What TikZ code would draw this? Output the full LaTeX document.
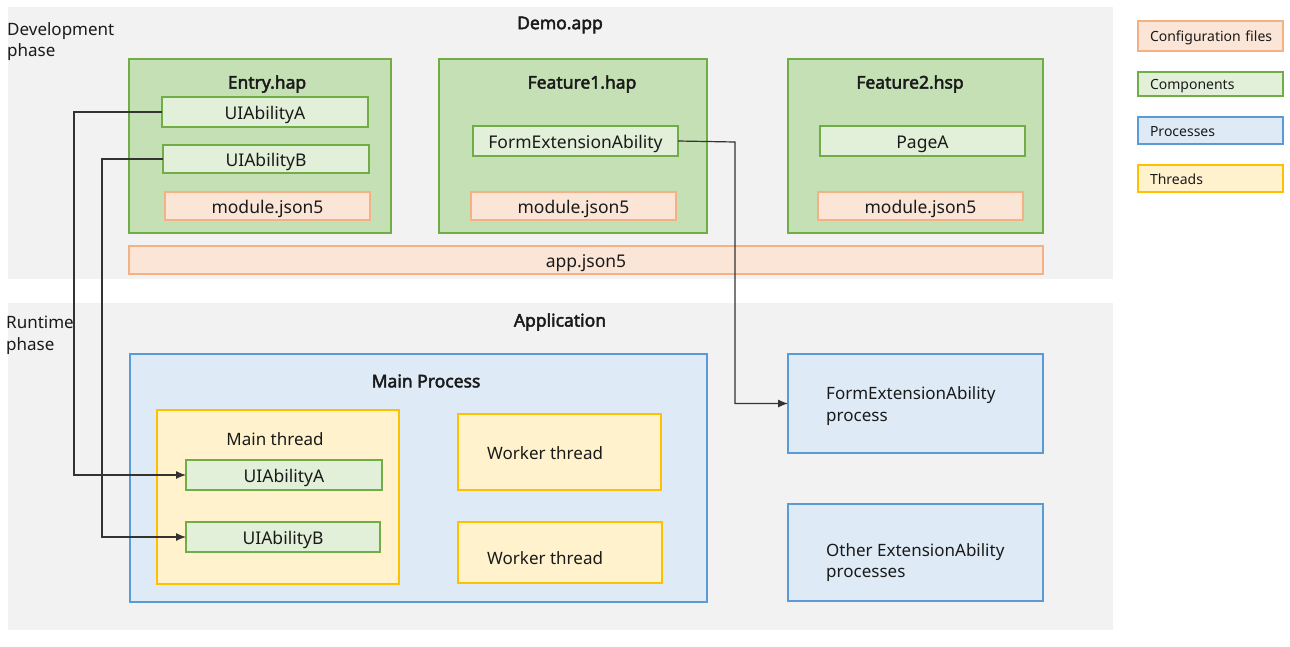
\documentclass[tikz,border=0pt]{standalone}
\usepackage{fontspec}
\setmainfont{Noto Sans}[AutoFakeBold=2.5]
\usetikzlibrary{arrows.meta}
\definecolor{panel}{HTML}{F2F2F2}
\definecolor{grpfill}{HTML}{C5E0B4}
\definecolor{grpline}{HTML}{70AD47}
\definecolor{compfill}{HTML}{E2F0D9}
\definecolor{cfgfill}{HTML}{FBE5D6}
\definecolor{cfgline}{HTML}{F4B183}
\definecolor{procfill}{HTML}{DEEBF7}
\definecolor{procline}{HTML}{5B9BD5}
\definecolor{thrfill}{HTML}{FFF2CC}
\definecolor{thrline}{HTML}{FFC000}
\definecolor{ink}{HTML}{1A1A1A}
\definecolor{wire}{HTML}{333333}
\begin{document}
\begin{tikzpicture}[x=1pt,y=-1pt,
  box/.style={draw, line width=2pt, anchor=north west, inner sep=0pt, outer sep=0pt,
    text=ink, text height=14pt, text depth=0pt, font=\fontsize{17.5}{20}\selectfont},
  grp/.style={box, fill=grpfill, draw=grpline},
  comp/.style={box, fill=compfill, draw=grpline},
  cfg/.style={box, fill=cfgfill, draw=cfgline},
  proc/.style={box, fill=procfill, draw=procline},
  thr/.style={box, fill=thrfill, draw=thrline},
  legend/.style={box, line width=1.8pt, align=left, inner xsep=12pt, text width=121pt,
    minimum width=145, text height=11pt, font=\fontsize{14}{16}\selectfont},
  ttl/.style={text=ink, inner sep=0pt, font=\bfseries\fontsize{17.5}{20}\selectfont},
  lbl/.style={text=ink, inner sep=0pt, align=left, font=\fontsize{17}{21.5}\selectfont},
  conn/.style={draw=wire, line width=1.2pt, -{Latex[length=10pt,width=8pt]}}
]
\useasboundingbox (0,0) rectangle (1290,646);

% panels
\node[box, draw=none, fill=panel, minimum width=1105, minimum height=272] (dev) at (8,7) {};
\node[box, draw=none, fill=panel, minimum width=1105, minimum height=327] (run) at (8,303) {};
\node[ttl] (demo) at (560,25) {Demo.app};
\node[ttl] (appl) at (560,322) {Application};
\node[lbl, anchor=north west] (devlbl) at (7,22) {Development\\phase};
\node[lbl, anchor=north west] (runlbl) at (6,316) {Runtime\\phase};

% development modules
\node[grp, minimum width=262, minimum height=174] (entry) at (129,59) {};
\node[ttl] (entryt) at (267,84) {Entry.hap};
\node[comp, minimum width=206, minimum height=30] (da) at (162,97) {UIAbilityA};
\node[comp, minimum width=206, minimum height=28] (db) at (163,145) {UIAbilityB};
\node[cfg, minimum width=205, minimum height=28] (m1) at (165,192) {module.json5};

\node[grp, minimum width=268, minimum height=174] (f1) at (439,59) {};
\node[ttl] (f1t) at (582,84) {Feature1.hap};
\node[comp, minimum width=205, minimum height=30] (fea) at (473,126) {FormExtensionAbility};
\node[cfg, minimum width=205, minimum height=28] (m2) at (471,192) {module.json5};

\node[grp, minimum width=255, minimum height=174] (f2) at (788,59) {};
\node[ttl] (f2t) at (910,84) {Feature2.hsp};
\node[comp, minimum width=205, minimum height=30] (pa) at (820,126) {PageA};
\node[cfg, minimum width=205, minimum height=28] (m3) at (818,192) {module.json5};

\node[cfg, minimum width=914, minimum height=28] (appj) at (129,246) {app.json5};

% legend
\node[legend, fill=cfgfill, draw=cfgline, minimum height=30] (lg1) at (1138,21) {\mbox{Configuration files}};
\node[legend, fill=compfill, draw=grpline, minimum height=24] (lg2) at (1138,72) {Components};
\node[legend, fill=procfill, draw=procline, minimum height=27] (lg3) at (1138,117) {Processes};
\node[legend, fill=thrfill, draw=thrline, minimum height=27] (lg4) at (1138,165) {Threads};

% runtime
\node[proc, minimum width=577, minimum height=248] (mp) at (130,354) {};
\node[ttl] (mpt) at (426,381) {Main Process};
\node[thr, minimum width=242, minimum height=174] (mt) at (157,410) {};
\node[lbl] (mtt) at (275,439) {Main thread};
\node[comp, minimum width=196, minimum height=30] (ra) at (186,460) {UIAbilityA};
\node[comp, minimum width=194, minimum height=30] (rb) at (186,522) {UIAbilityB};

\node[thr, minimum width=203, minimum height=76] (w1) at (458,414) {};
\node[lbl, anchor=west] (w1t) at (487,453) {Worker thread};
\node[thr, minimum width=204, minimum height=61] (w2) at (458,522) {};
\node[lbl, anchor=west] (w2t) at (487,558) {Worker thread};

\node[proc, minimum width=255, minimum height=99] (fp) at (788,354) {};
\node[lbl, anchor=west] (fpt) at (826,406) {FormExtensionAbility\\process};
\node[proc, minimum width=255, minimum height=97] (op) at (788,504) {};
\node[lbl, anchor=west] (opt) at (826,562.5) {Other ExtensionAbility\\processes};

% connectors
\coordinate (ka) at (74,112);
\coordinate (kb) at (102,159);
\coordinate (kf) at (735,142);
\draw[conn] (da.west) -- (ka) |- (ra.west);
\draw[conn] (db.west) -- (kb) |- (rb.west);
\draw[conn] (fea.east) -- (kf) |- (fp.west);
\end{tikzpicture}
\end{document}
